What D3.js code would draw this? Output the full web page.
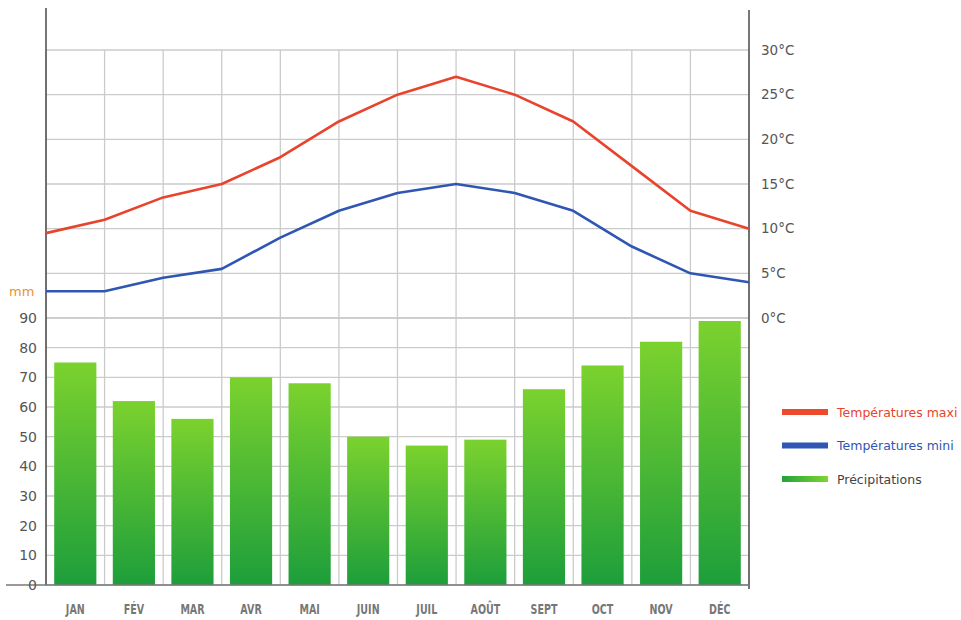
<!DOCTYPE html>
<html>
<head>
<meta charset="utf-8">
<script src="https://cdn.jsdelivr.net/npm/d3@7"></script>
<style>
  html, body { margin: 0; padding: 0; background: #fff; }
  svg { display: block; }
</style>
</head>
<body>
<svg id="chart" width="961" height="620"></svg>
<script>
// ---- data ----
const months = ["JAN", "FÉV", "MAR", "AVR", "MAI", "JUIN", "JUIL", "AOÛT", "SEPT", "OCT", "NOV", "DÉC"];
const precipitation = [75, 62, 56, 70, 68, 50, 47, 49, 66, 74, 82, 89];
// temperature lines are drawn through the 13 vertical grid lines
const tempMax = [9.5, 11, 13.5, 15, 18, 22, 25, 27, 25, 22, 17, 12, 10];
const tempMin = [3, 3, 4.5, 5.5, 9, 12, 14, 15, 14, 12, 8, 5, 4];
const tempTicks = [0, 5, 10, 15, 20, 25, 30];
const precTicks = [0, 10, 20, 30, 40, 50, 60, 70, 80, 90];
const legendLabels = ["Températures maxi", "Températures mini", "Précipitations"];

const svg = d3.select("#chart");
const left = 46, right = 749;
const font = "DejaVu Sans, Noto Sans, sans-serif";

const x = d3.scaleBand().domain(months).range([left, right]).paddingInner(0.28).paddingOuter(0.14);
const xGrid = d3.scalePoint().domain(d3.range(tempMax.length)).range([left, right]);
const yTemp = d3.scaleLinear().domain([0, 30]).range([318, 50]);
const yPrec = d3.scaleLinear().domain([0, 90]).range([585, 318]);

// gradients
const defs = svg.append("defs");
const gBar = defs.append("linearGradient").attr("id", "barGrad").attr("x1", 0).attr("y1", 0).attr("x2", 0).attr("y2", 1);
gBar.append("stop").attr("offset", "0%").attr("stop-color", "#7bd22e");
gBar.append("stop").attr("offset", "100%").attr("stop-color", "#1d9e3b");
const gLeg = defs.append("linearGradient").attr("id", "legGreen").attr("x1", 0).attr("y1", 0).attr("x2", 1).attr("y2", 0);
gLeg.append("stop").attr("offset", "0%").attr("stop-color", "#22a33a");
gLeg.append("stop").attr("offset", "100%").attr("stop-color", "#80d431");

// grid
const grid = svg.append("g").attr("stroke", "#cbcbcb").attr("stroke-width", 1.3);
tempTicks.forEach(t => grid.append("line").attr("x1", left).attr("x2", right).attr("y1", yTemp(t)).attr("y2", yTemp(t)));
precTicks.forEach(t => grid.append("line").attr("x1", left).attr("x2", right).attr("y1", yPrec(t)).attr("y2", yPrec(t)));
xGrid.domain().forEach(i => grid.append("line").attr("x1", xGrid(i)).attr("x2", xGrid(i)).attr("y1", yTemp(30)).attr("y2", yPrec(0)));

// bars
svg.append("g").selectAll("rect").data(precipitation).join("rect")
  .attr("x", (d, i) => x(months[i]))
  .attr("width", x.bandwidth())
  .attr("y", d => yPrec(d))
  .attr("height", d => yPrec(0) - yPrec(d))
  .attr("fill", "url(#barGrad)");

// axis lines
svg.append("line").attr("x1", left).attr("x2", left).attr("y1", 8).attr("y2", yPrec(0)).attr("stroke", "#555").attr("stroke-width", 1.6);
svg.append("line").attr("x1", right).attr("x2", right).attr("y1", 10).attr("y2", yPrec(0) + 4).attr("stroke", "#555").attr("stroke-width", 1.6);
svg.append("line").attr("x1", 6).attr("x2", right + 1).attr("y1", yPrec(0)).attr("y2", yPrec(0)).attr("stroke", "#777").attr("stroke-width", 1.5);

// lines
const lineGen = d3.line().x((d, i) => xGrid(i)).y(d => yTemp(d));
svg.append("path").datum(tempMax).attr("d", lineGen).attr("fill", "none").attr("stroke", "#e8432c").attr("stroke-width", 2.6).attr("stroke-linejoin", "round");
svg.append("path").datum(tempMin).attr("d", lineGen).attr("fill", "none").attr("stroke", "#2f56b2").attr("stroke-width", 2.6).attr("stroke-linejoin", "round");

// right axis (temperature)
const axR = svg.append("g").attr("transform", `translate(${right + 12},0)`)
  .call(d3.axisRight(yTemp).tickValues(tempTicks).tickFormat(d => d + "°C").tickSize(0).tickPadding(0));
axR.select(".domain").remove();
axR.selectAll("text").attr("font-family", font).attr("font-size", 13.5).attr("fill", "#555");

// left axis (precipitation)
const axL = svg.append("g").attr("transform", `translate(37,0)`)
  .call(d3.axisLeft(yPrec).tickValues(precTicks).tickSize(0).tickPadding(0));
axL.select(".domain").remove();
axL.selectAll("text").attr("font-family", font).attr("font-size", 14).attr("fill", "#555");
svg.append("text").attr("x", 9).attr("y", 296).attr("font-family", font).attr("font-size", 13)
  .attr("fill", "#e8922e").text("mm");

// bottom axis (months)
const axB = svg.append("g").attr("transform", `translate(0,${yPrec(0)})`)
  .call(d3.axisBottom(x).tickSize(0).tickPadding(19));
axB.select(".domain").remove();
axB.selectAll("text").attr("font-family", "DejaVu Sans, sans-serif")
  .attr("font-weight", "bold").attr("font-size", 14).attr("fill", "#777")
  .attr("transform", "scale(0.68,1)");

// legend
const legColors = ["#ee4a2d", "#2f56b4", "url(#legGreen)"];
const legText = ["#e8432c", "#2f56b2", "#444"];
const leg = svg.append("g");
legendLabels.forEach((lab, i) => {
  const yy = 412 + i * 33.5;
  leg.append("rect").attr("x", 782).attr("y", yy - 3).attr("width", 46).attr("height", 6).attr("fill", legColors[i]);
  leg.append("text").attr("x", 837).attr("y", yy + 4.5).attr("font-family", font).attr("font-size", 12.5)
    .attr("fill", legText[i]).text(lab);
});
</script>
</body>
</html>
